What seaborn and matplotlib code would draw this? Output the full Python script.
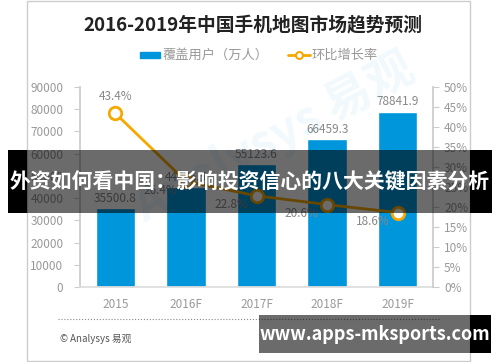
import numpy as np
import matplotlib
matplotlib.use('Agg')
import matplotlib.pyplot as plt
import seaborn as sns
from matplotlib.patches import Rectangle

sns.set_theme(style='white')
plt.rcParams['font.family'] = ['Noto Sans CJK SC', 'DejaVu Sans']

years = ['2015', '2016F', '2017F', '2018F', '2019F']
users = [35500.8, 44886.5, 55123.6, 66459.3, 78841.9]
growth = [43.4, 26.4, 22.8, 20.6, 18.6]

blue = '#0096dc'
orange = '#f5a800'
gray = '#999999'

fig = plt.figure(figsize=(5, 3.62), dpi=100)
ax = fig.add_axes([0.16, 0.207, 0.706, 0.553])

sns.barplot(x=years, y=users, color=blue, width=0.56, saturation=1, ax=ax)
ax.set_ylim(0, 90000)
ax.set_yticks(np.arange(0, 90001, 10000))
ax.set_xlim(-0.5, 4.5)
for i, v in enumerate(users):
    ax.text(i, v + 1500, f'{v:.1f}', ha='center', va='bottom', fontsize=8.5, color='#888888')

ax2 = ax.twinx()
sns.lineplot(x=np.arange(len(years)), y=growth, color=orange, lw=2, marker='o',
             markersize=9, markerfacecolor='white', markeredgecolor=orange,
             markeredgewidth=2, ax=ax2)
ax2.set_ylim(0, 50)
ax2.set_yticks(np.arange(0, 51, 5))
ax2.set_yticklabels([f'{t}%' for t in range(0, 51, 5)])
for i, g in enumerate(growth):
    if i == 0:
        ax2.text(i, g + 2.5, f'{g}%', ha='center', va='bottom', fontsize=8.5, color='#888888')
    else:
        ax2.text(i - 0.12, g - 2.2, f'{g}%', ha='right', va='center', fontsize=8.5, color='#888888')

for a in (ax, ax2):
    for s in a.spines.values():
        s.set_visible(False)
    a.tick_params(colors=gray, labelsize=8.5, length=4, width=0.8, color='#cccccc')
    a.set_xlabel('')
    a.set_ylabel('')
ax.spines['left'].set_visible(True)
ax.spines['left'].set_color('#cccccc')
ax.spines['bottom'].set_visible(True)
ax.spines['bottom'].set_color('#dddddd')
ax2.spines['right'].set_visible(True)
ax2.spines['right'].set_color('#cccccc')
ax.tick_params(axis='x', length=0, pad=8)
ax.tick_params(axis='y', left=True, pad=8)
ax2.tick_params(axis='y', right=True, pad=4)

# frame, title, legend
fig.add_artist(Rectangle((27 / 500, 0.003), 443 / 500, 0.995, transform=fig.transFigure,
                         fill=False, ec='#cccccc', lw=1, zorder=0))
fig.text(0.506, 0.931, '2016-2019年中国手机地图市场趋势预测', ha='center', va='center',
         fontsize=13.5, fontweight='bold', color='#222222')
fig.add_artist(Rectangle((140 / 500, 1 - 58 / 362), 20 / 500, 6 / 362,
                         transform=fig.transFigure, color=blue))
fig.text(163 / 500, 1 - 55 / 362, '覆盖用户（万人）', ha='left', va='center', fontsize=9.5, color=gray)
fig.add_artist(plt.Line2D([288 / 500, 310 / 500], [1 - 55 / 362] * 2, transform=fig.transFigure,
                          color=orange, lw=2))
fig.add_artist(plt.Line2D([299 / 500], [1 - 55 / 362], transform=fig.transFigure,
                          color=orange, marker='o', markersize=5, markerfacecolor='white',
                          markeredgewidth=1.5))
fig.text(312 / 500, 1 - 55 / 362, '环比增长率', ha='left', va='center', fontsize=9.5, color=gray)

# watermark
fig.text(0.55, 0.62, 'Analysys 易观', ha='center', va='center', fontsize=34,
         color=blue, alpha=0.06, rotation=28, fontweight='bold')

# footer
fig.add_artist(plt.Line2D([58 / 500, 440 / 500], [1 - 319 / 362] * 2, transform=fig.transFigure,
                          color='#888888', lw=0.8, ls=':'))
fig.text(60 / 500, 1 - 339 / 362, '© Analysys 易观', ha='left', va='center', fontsize=7, color='#555555')

# overlay banners
fig.add_artist(Rectangle((27 / 500, 1 - 213 / 362), 443 / 500, 63 / 362, transform=fig.transFigure,
                         color='black', alpha=0.58, lw=0, zorder=10))
fig.add_artist(Rectangle((8 / 500, 1 - 213 / 362), 19 / 500, 63 / 362, transform=fig.transFigure,
                         color='black', lw=0, zorder=10))
fig.add_artist(Rectangle((470 / 500, 1 - 213 / 362), 22 / 500, 63 / 362, transform=fig.transFigure,
                         color='black', lw=0, zorder=10))
fig.text(0.5, 1 - 182 / 362, '外资如何看中国：影响投资信心的八大关键因素分析', ha='center', va='center',
         fontsize=15, fontweight='bold', color='white', zorder=11)

fig.add_artist(Rectangle((259 / 500, 1 - 353 / 362), 211 / 500, 38 / 362, transform=fig.transFigure,
                         color='black', alpha=0.58, lw=0, zorder=10))
fig.add_artist(Rectangle((470 / 500, 1 - 353 / 362), 21 / 500, 38 / 362, transform=fig.transFigure,
                         color='black', lw=0, zorder=10))
fig.text(375 / 500, 1 - 334 / 362, 'www.apps-mksports.com', ha='center', va='center',
         fontsize=13, fontweight='bold', color='white', zorder=11)

fig.savefig('out.png', dpi=100)
